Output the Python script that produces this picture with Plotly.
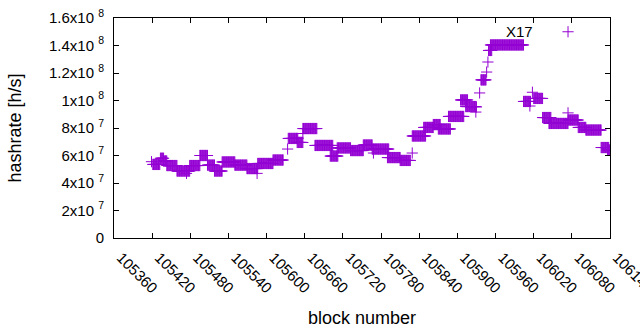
import plotly.graph_objects as go

# Run-length encoded hashrate readings: block range [start, end] with a constant value (h/s)
run_start = [105419, 105421, 105433, 105438, 105443, 105459, 105474, 105479, 105495, 105507,
             105518, 105530, 105550, 105569, 105585, 105586, 105610, 105633, 105634, 105648,
             105657, 105657, 105676, 105700, 105711, 105732, 105752, 105766, 105768, 105790,
             105810, 105829, 105829, 105847, 105862, 105870, 105886, 105905, 105913, 105929,
             105930, 105935, 105937, 105946, 105948, 105949, 105952, 106004, 106014, 106018,
             106020, 106034, 106044, 106074, 106074, 106090, 106102, 106126, 106136, 106074]
run_end = [105419, 105432, 105438, 105443, 105459, 105479, 105474, 105495, 105507, 105518,
           105530, 105550, 105569, 105586, 105585, 105610, 105626, 105633, 105649, 105657,
           105657, 105679, 105704, 105712, 105732, 105752, 105766, 105792, 105768, 105810,
           105826, 105829, 105850, 105862, 105873, 105889, 105910, 105916, 105929, 105929,
           105930, 105935, 105945, 105946, 105948, 105954, 106004, 106015, 106014, 106018,
           106034, 106047, 106074, 106074, 106090, 106102, 106126, 106138, 106140, 106074]
run_value = [55.5e6, 53.5e6, 58.0e6, 56.0e6, 52.7e6, 48.7e6, 47.0e6, 52.7e6, 60.0e6, 53.0e6,
             48.7e6, 55.3e6, 53.0e6, 50.5e6, 47.0e6, 54.2e6, 56.7e6, 64.7e6, 72.4e6, 69.5e6,
             76.0e6, 79.6e6, 67.3e6, 59.6e6, 65.5e6, 63.6e6, 67.6e6, 64.7e6, 61.8e6, 58.5e6,
             56.4e6, 61.8e6, 74.2e6, 80.4e6, 82.5e6, 79.3e6, 88.4e6, 100.4e6, 95.6e6, 91.6e6,
             95.3e6, 105.5e6, 115.0e6, 120.7e6, 128.0e6, 136.4e6, 140.4e6, 99.3e6, 96.0e6, 106.0e6,
             101.5e6, 87.6e6, 83.3e6, 91.0e6, 85.8e6, 80.4e6, 78.5e6, 65.8e6, 64.0e6, 150.0e6]

x_ticks = [105360, 105420, 105480, 105540, 105600, 105660, 105720, 105780,
           105840, 105900, 105960, 106020, 106080, 106140]
y_ticks = [0, 2e7, 4e7, 6e7, 8e7, 1e8, 1.2e8, 1.4e8, 1.6e8]
y_tick_text = ["0", "2x10\u00a0<sup>7</sup>", "4x10\u00a0<sup>7</sup>", "6x10\u00a0<sup>7</sup>",
               "8x10\u00a0<sup>7</sup>", "1x10\u00a0<sup>8</sup>", "1.2x10\u00a0<sup>8</sup>",
               "1.4x10\u00a0<sup>8</sup>", "1.6x10\u00a0<sup>8</sup>"]
label_text = "X17"
label_x = 105997
label_y = 1.5e8

# decode runs into per-block points
blocks, rates = [], []
for s, e, v in zip(run_start, run_end, run_value):
    for b in range(s, e + 1):
        blocks.append(b)
        rates.append(v)

color = "#9400D3"
fig = go.Figure()
fig.add_trace(go.Scatter(
    x=blocks, y=rates, mode="markers",
    marker=dict(symbol="cross-thin", size=8, color=color,
                line=dict(width=1, color=color)),
    showlegend=False, hoverinfo="skip"))

fig.add_annotation(x=label_x, y=label_y, text=label_text, showarrow=False,
                   xanchor="center", yanchor="middle",
                   font=dict(size=15, color="black"))

font_family = "Liberation Sans, Arial, sans-serif"
fig.update_layout(
    width=640, height=330,
    margin=dict(l=114, r=30, t=18, b=92),
    paper_bgcolor="white", plot_bgcolor="white",
    font=dict(family=font_family, size=15, color="black"),
    xaxis=dict(range=[105360, 106140], tickvals=x_ticks,
               ticktext=[str(t) for t in x_ticks], tickangle=45,
               ticklabeloverflow="allow", ticklabelstandoff=4, ticklabelshift=7,
               ticks="inside", ticklen=5, tickcolor="black", mirror="allticks",
               showline=True, linecolor="black", linewidth=1,
               showgrid=False, zeroline=False,
               title=dict(text="block number", standoff=16),
               automargin=False),
    yaxis=dict(range=[0, 1.6e8], tickvals=y_ticks, ticktext=y_tick_text,
               ticks="inside", ticklen=5, tickcolor="black", mirror="allticks",
               showline=True, linecolor="black", linewidth=1,
               showgrid=False, zeroline=False, ticklabelstandoff=6,
               title=dict(text="hashrate [h/s]", standoff=22),
               automargin=False),
)

fig.write_html("out.html", config={"displayModeBar": False},
               post_script="document.body.style.margin='0';document.body.style.padding='0';")
